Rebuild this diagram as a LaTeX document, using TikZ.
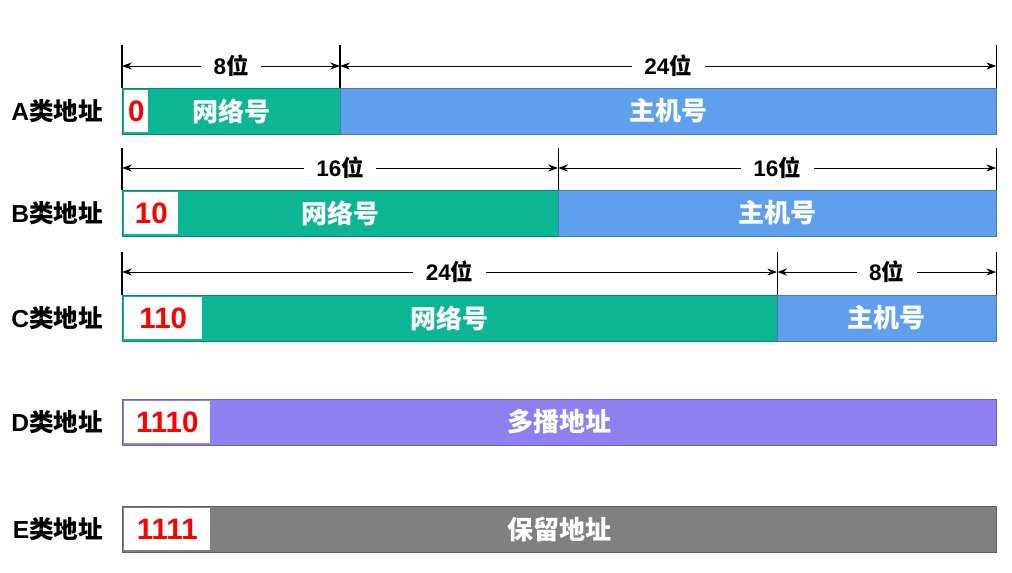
\documentclass[tikz,border=0pt]{standalone}
\usepackage{fontspec}
\setmainfont{Liberation Sans}
\newfontfamily\cjk{Noto Sans CJK SC}
\usetikzlibrary{arrows.meta,positioning}
\definecolor{netgreen}{RGB}{12,182,148}
\definecolor{hostblue}{RGB}{94,160,236}
\definecolor{castpurple}{RGB}{142,128,240}
\definecolor{resvgray}{RGB}{128,128,128}
\tikzset{
  field/.style={draw=#1!75!black, line width=0.6pt, fill=#1,
    minimum height=1.15cm, inner sep=0pt, outer sep=0pt, anchor=west,
    text=white, font=\cjk\bfseries\fontsize{18.5}{18.5}\selectfont},
  prefbox/.style={fill=white, minimum height=1.05cm, inner sep=0pt,
    anchor=west, text=red, font=\bfseries\fontsize{21}{21}\selectfont},
  classlab/.style={anchor=east, font=\bfseries\fontsize{17.5}{17.5}\selectfont},
  dimtick/.style={line width=0.8pt},
  dimarr/.style={{Stealth[length=7pt,width=5pt]}-{Stealth[length=7pt,width=5pt]}, line width=0.7pt},
  bitlab/.style={fill=white, inner xsep=9pt, font=\bfseries\fontsize{16}{16}\selectfont},
}

\begin{document}
\begin{tikzpicture}[x=0.025cm, y=-0.025cm]
  \useasboundingbox (0,0) rectangle (1012,572);

  % A class
  \node[classlab] (aLab) at (108,111) {A{\cjk 类地址}};
  \node[field=netgreen, minimum width=5.45cm] (aNet) at (122,111) {网络号};
  \node[field=hostblue, minimum width=16.4cm, right=0pt of aNet] (aHost) {主机号};
  \node[prefbox, minimum width=0.6cm] (aPre) at (124,111) {0};
  \coordinate (aTop) at (122,45);
  \draw[dimtick] (aNet.north west) -- (aNet.north west |- aTop);
  \draw[dimtick] (aNet.north east) -- (aNet.north east |- aTop);
  \draw[dimtick] (aHost.north east) -- (aHost.north east |- aTop);
  \draw[dimarr] (aNet.west |- 0,66) -- (aNet.east |- 0,66)
    node[midway, bitlab] (aNetBits) {8{\cjk 位}};
  \draw[dimarr] (aHost.west |- 0,66) -- (aHost.east |- 0,66)
    node[midway, bitlab] (aHostBits) {24{\cjk 位}};

  % B class
  \node[classlab] (bLab) at (108,213) {B{\cjk 类地址}};
  \node[field=netgreen, minimum width=10.9cm] (bNet) at (122,213) {网络号};
  \node[field=hostblue, minimum width=10.95cm, right=0pt of bNet] (bHost) {主机号};
  \node[prefbox, minimum width=1.35cm] (bPre) at (124,213) {10};
  \coordinate (bTop) at (122,148);
  \draw[dimtick] (bNet.north west) -- (bNet.north west |- bTop);
  \draw[dimtick] (bNet.north east) -- (bNet.north east |- bTop);
  \draw[dimtick] (bHost.north east) -- (bHost.north east |- bTop);
  \draw[dimarr] (bNet.west |- 0,168) -- (bNet.east |- 0,168)
    node[midway, bitlab] (bNetBits) {16{\cjk 位}};
  \draw[dimarr] (bHost.west |- 0,168) -- (bHost.east |- 0,168)
    node[midway, bitlab] (bHostBits) {16{\cjk 位}};

  % C class
  \node[classlab] (cLab) at (108,318) {C{\cjk 类地址}};
  \node[field=netgreen, minimum width=16.375cm] (cNet) at (122,318) {网络号};
  \node[field=hostblue, minimum width=5.475cm, right=0pt of cNet] (cHost) {主机号};
  \node[prefbox, minimum width=1.95cm] (cPre) at (124,318) {110};
  \coordinate (cTop) at (122,252);
  \draw[dimtick] (cNet.north west) -- (cNet.north west |- cTop);
  \draw[dimtick] (cNet.north east) -- (cNet.north east |- cTop);
  \draw[dimtick] (cHost.north east) -- (cHost.north east |- cTop);
  \draw[dimarr] (cNet.west |- 0,272) -- (cNet.east |- 0,272)
    node[midway, bitlab] (cNetBits) {24{\cjk 位}};
  \draw[dimarr] (cHost.west |- 0,272) -- (cHost.east |- 0,272)
    node[midway, bitlab] (cHostBits) {8{\cjk 位}};

  % D class
  \node[classlab] (dLab) at (108,422) {D{\cjk 类地址}};
  \node[field=castpurple, minimum width=21.85cm] (dAll) at (122,422) {多播地址};
  \node[prefbox, minimum width=2.15cm] (dPre) at (124,422) {1110};

  % E class
  \node[classlab] (eLab) at (108,529) {E{\cjk 类地址}};
  \node[field=resvgray, minimum width=21.85cm] (eAll) at (122,529) {保留地址};
  \node[prefbox, minimum width=2.15cm] (ePre) at (124,529) {1111};
\end{tikzpicture}
\end{document}
